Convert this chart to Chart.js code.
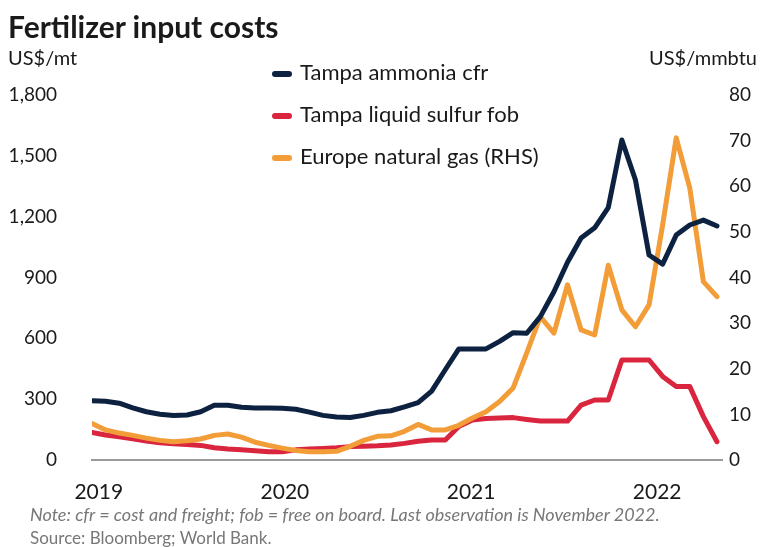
<!DOCTYPE html>
<html>
<head>
<meta charset="utf-8">
<script src="https://cdn.jsdelivr.net/npm/chart.js@4"></script>
<style>
  body { margin: 0; background: #fff; font-family: Lato, "Open Sans", sans-serif; color: #1a1a1a; }
  #wrap { position: relative; width: 765px; height: 547px; overflow: hidden; }
  #chart { position: absolute; left: 0; top: 0; }
  .txt { position: absolute; white-space: nowrap; line-height: 1.2; }
  #title { left: 8px; top: 8px; font-size: 30px; font-weight: 700; }
  #unitL { left: 8px; top: 45px; font-size: 20px; }
  #unitR { right: 8px; top: 45px; font-size: 20px; }
  #note { left: 30px; top: 504px; font-size: 18px; font-style: italic; color: #777; }
  #source { left: 30px; top: 528px; font-size: 17px; color: #777; }
  #legend { position: absolute; left: 272px; top: 59px; font-size: 22px; line-height: 1.2; }
  .item { height: 42px; display: flex; align-items: flex-start; }
  .swatch { width: 20px; height: 6px; border-radius: 3px; margin: 12px 8px 0 0; }
</style>
</head>
<body>
<div id="wrap">
  <canvas id="chart" width="765" height="547"></canvas>
  <div class="txt" id="title">Fertilizer input costs</div>
  <div class="txt" id="unitL">US$/mt</div>
  <div class="txt" id="unitR">US$/mmbtu</div>
  <div id="legend"></div>
  <div class="txt" id="note">Note: cfr = cost and freight; fob = free on board. Last observation is November 2022.</div>
  <div class="txt" id="source">Source: Bloomberg; World Bank.</div>
</div>
<script>
// monthly, Jan 2019 - Nov 2022
const months = [];
[2019, 2020, 2021, 2022].forEach(function(y) {
    ['Jan','Feb','Mar','Apr','May','Jun','Jul','Aug','Sep','Oct','Nov','Dec'].forEach(function(m) {
        months.push(m + ' ' + y);
    });
});
months.length = 47;

const yearLabels = ['2019', '2020', '2021', '2022'];

// US$/mt
const ammonia = [292, 290, 280, 257, 238, 226, 220, 222, 238, 270, 270, 260,
                 256, 256, 255, 250, 236, 220, 212, 210, 220, 235, 243, 262,
                 283, 340, 445, 548, 548, 548, 585, 628, 625, 707, 830, 975,
                 1095, 1145, 1245, 1578, 1381, 1011, 966, 1109, 1159, 1183, 1154];
const sulfur = [136, 123, 115, 105, 93, 85, 80, 77, 72, 60, 54, 50,
                46, 41, 41, 50, 54, 57, 60, 66, 68, 70, 74, 82,
                92, 99, 99, 165, 197, 205, 207, 209, 200, 192, 192, 192,
                271, 296, 296, 493, 493, 493, 412, 362, 362, 214, 90];
// US$/mmbtu (RHS)
const gas = [8.0, 6.6, 5.9, 5.4, 4.8, 4.3, 4.0, 4.2, 4.6, 5.4, 5.7, 5.0,
             3.9, 3.2, 2.6, 2.1, 1.8, 1.8, 1.9, 3.0, 4.3, 5.2, 5.3, 6.3,
             7.8, 6.6, 6.6, 7.6, 9.2, 10.6, 12.8, 15.8, 23.5, 31.4, 27.8, 38.4,
             28.5, 27.4, 42.7, 32.9, 29.2, 34.0, 51.5, 70.6, 59.6, 39.1, 35.8];

const seriesNames = ['Tampa ammonia cfr', 'Tampa liquid sulfur fob', 'Europe natural gas (RHS)'];
const colors = ['#0d2240', '#d9263e', '#f29d38'];

function pts(arr) {
    return arr.map(function(v, i) { return { x: i, y: v }; });
}

const legend = document.getElementById('legend');
seriesNames.forEach(function(name, i) {
    const row = document.createElement('div');
    row.className = 'item';
    row.innerHTML = '<span class="swatch" style="background:' + colors[i] + '"></span><span>' + name + '</span>';
    legend.appendChild(row);
});

const tickFont = { family: 'Lato', size: 19 };

new Chart(document.getElementById('chart').getContext('2d'), {
    type: 'line',
    data: {
        datasets: [
            { label: seriesNames[0], data: pts(ammonia), borderColor: colors[0], yAxisID: 'y', order: 0 },
            { label: seriesNames[1], data: pts(sulfur), borderColor: colors[1], yAxisID: 'y', order: 2 },
            { label: seriesNames[2], data: pts(gas), borderColor: colors[2], yAxisID: 'y1', order: 1 }
        ]
    },
    options: {
        responsive: false,
        animation: false,
        devicePixelRatio: 1,
        layout: { padding: { top: 95, left: 0, right: 0, bottom: 0 } },
        elements: {
            line: { borderWidth: 5, tension: 0, borderJoinStyle: 'round', borderCapStyle: 'round' },
            point: { radius: 0 }
        },
        plugins: { legend: { display: false }, tooltip: { enabled: false } },
        scales: {
            x: {
                type: 'linear',
                min: 0,
                max: 46.37,
                grid: { display: false },
                border: { display: true, color: '#9a9a9a', width: 2 },
                afterFit: function(s) { s.height = 87; },
                afterBuildTicks: function(s) {
                    s.ticks = yearLabels.map(function(l, k) { return { value: 0.5 + k * 13.7 }; });
                },
                ticks: {
                    autoSkip: false,
                    maxRotation: 0,
                    padding: 12,
                    color: '#1a1a1a',
                    font: { family: 'Lato', size: 21 },
                    callback: function(v, i) { return yearLabels[i]; }
                }
            },
            y: {
                position: 'left',
                min: 0,
                max: 1800,
                grid: { display: false, drawTicks: false },
                border: { display: false },
                afterFit: function(s) { s.width = 92; },
                ticks: {
                    stepSize: 300,
                    padding: 35,
                    color: '#1a1a1a',
                    font: tickFont,
                    callback: function(v) { return v.toLocaleString('en-US'); }
                }
            },
            y1: {
                position: 'right',
                min: 0,
                max: 80,
                grid: { display: false, drawTicks: false },
                border: { display: false },
                afterFit: function(s) { s.width = 43; },
                ticks: { stepSize: 10, padding: 7, color: '#1a1a1a', font: tickFont }
            }
        }
    }
});
</script>
</body>
</html>
